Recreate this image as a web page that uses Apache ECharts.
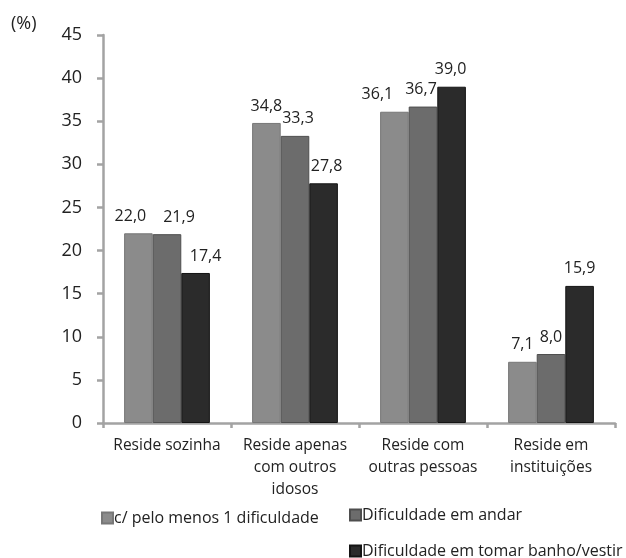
<!DOCTYPE html>
<html>
<head>
<meta charset="utf-8">
<script src="https://cdn.jsdelivr.net/npm/echarts@6/dist/echarts.min.js"></script>
<style>
  html, body { margin: 0; padding: 0; background: #fff; }
  #chart { width: 626px; height: 558px; }
</style>
</head>
<body>
<div id="chart"></div>
<script>
// Living arrangement categories
const categories = ['Reside sozinha', 'Reside apenas\ncom outros\nidosos', 'Reside com\noutras pessoas', 'Reside em\ninstituições'];
const seriesNames = ['c/ pelo menos 1 dificuldade', 'Dificuldade em andar', 'Dificuldade em tomar banho/vestir'];
// Percentages per series
const peloMenos1 = [22.0, 34.8, 36.1, 7.1];
const andar = [21.9, 33.3, 36.7, 8.0];
const banhoVestir = [17.4, 27.8, 39.0, 15.9];
const yTicks = [0, 5, 10, 15, 20, 25, 30, 35, 40, 45];

// Horizontal nudges for value labels so neighbouring labels do not collide
const labelShiftX = [
  [-8, 0, -17, 0],
  [12, 3, -2, 0],
  [10, 3, -1, 0]
];

const fills = ['#8b8b8b', '#6c6c6c', '#2b2b2b'];
const borders = ['#777777', '#4e4e4e', '#141414'];
const values = [peloMenos1, andar, banhoVestir];
const font = '"Open Sans", "DejaVu Sans", sans-serif';

const chart = echarts.init(document.getElementById('chart'), null, { renderer: 'canvas' });

const series = seriesNames.map((name, i) => ({
  name,
  type: 'bar',
  barGap: '0%',
  barCategoryGap: '33%',
  itemStyle: { color: fills[i], borderColor: borders[i], borderWidth: 1 },
  data: values[i].map((v, j) => ({
    value: v,
    label: { offset: [labelShiftX[i][j], 0] }
  })),
  label: {
    show: true,
    position: 'top',
    distance: 9,
    formatter: p => p.value.toFixed(1).replace('.', ','),
    color: '#222',
    fontSize: 16,
    fontFamily: font
  }
}));

const legendBase = {
  itemWidth: 11,
  itemHeight: 11,
  itemGap: 2,
  textStyle: { color: '#222', fontSize: 16, fontFamily: font, padding: [0, 0, 0, -4] },
  icon: 'rect'
};

chart.setOption({
  animation: false,
  grid: { left: 103, right: 11, top: 35, bottom: 135 },
  legend: [
    Object.assign({}, legendBase, { data: [seriesNames[0]], left: 96, top: 505 }),
    Object.assign({}, legendBase, { data: [seriesNames[1]], left: 344, top: 502 }),
    Object.assign({}, legendBase, { data: [seriesNames[2]], left: 344, top: 538 })
  ],
  graphic: [{
    type: 'text',
    left: 11,
    top: 15,
    style: { text: '(%)', fill: '#222', fontSize: 18, fontFamily: font }
  }],
  xAxis: {
    type: 'category',
    data: categories,
    axisLine: { lineStyle: { color: '#a3a3a3', width: 2.5 } },
    axisTick: { show: true, length: 5, lineStyle: { color: '#a3a3a3', width: 2.5 } },
    axisLabel: { interval: 0, color: '#222', fontSize: 15.5, fontFamily: font, lineHeight: 22, margin: 12 }
  },
  yAxis: {
    type: 'value',
    min: 0,
    max: 45,
    interval: 5,
    axisLine: { show: true, lineStyle: { color: '#a3a3a3', width: 2.5 } },
    axisTick: { show: true, length: 6, lineStyle: { color: '#a3a3a3', width: 2.5 } },
    splitLine: { show: false },
    axisLabel: {
      color: '#222', fontSize: 18, fontFamily: font, margin: 21,
      formatter: v => yTicks.includes(v) ? String(v) : ''
    }
  },
  series
});
</script>
</body>
</html>
